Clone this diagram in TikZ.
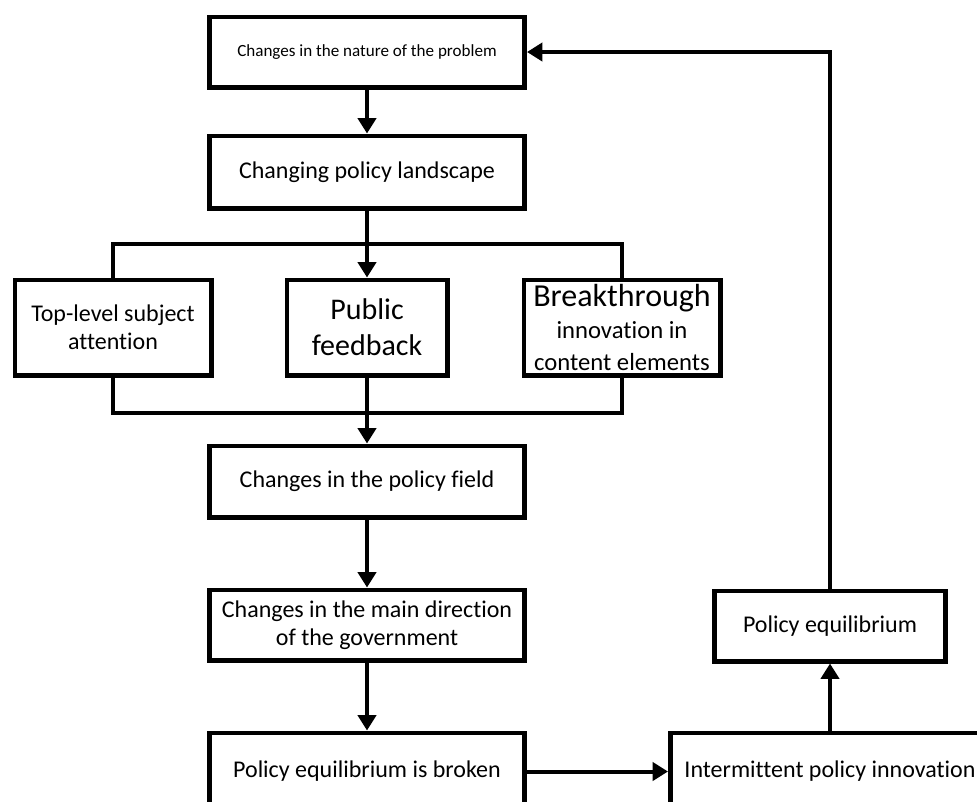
\documentclass[tikz,border=0pt]{standalone}
\usepackage{fontspec}
\setmainfont{Carlito}[Ligatures=NoCommon]
\usepackage{tikz}
\usetikzlibrary{arrows.meta, positioning}
\tikzset{
  block/.style={rectangle, draw=black, fill=white, line width=3.5pt,
    align=center, minimum width=236.5pt, minimum height=52.75pt,
    inner sep=2pt, font=\fontsize{18}{21}\selectfont},
  arrow/.style={-{Triangle[length=11.5pt,width=13.5pt]}, line width=3pt, color=black},
  line/.style={line width=3pt, color=black}
}

\begin{document}
\begin{tikzpicture}[node distance=50pt,
  sblock/.style={block, minimum width=147.25pt, minimum height=71.5pt}]
  \useasboundingbox (0,0) rectangle (732.75pt,-600.75pt);
  \clip (0,0) rectangle (732.75pt,-600.75pt);

  \node[block, font=\fontsize{12.8}{15}\selectfont] (problem) at (275.25pt,-39pt) {Changes in the nature of the problem};
  \node[block, minimum height=54.25pt, below=33pt of problem] (landscape) {Changing policy landscape};

  \node[sblock, minimum width=120.25pt, below=50.25pt of landscape,
    font=\fontsize{22.5}{27}\selectfont] (feedback) {Public\\feedback};
  \node[sblock, left=53.25pt of feedback] (attention) {Top-level subject\\attention};
  \node[sblock, inner sep=0pt, right=54pt of feedback,
    font=\fontsize{18.5}{24}\selectfont] (breakthrough) {{\fontsize{24}{24}\selectfont Breakthrough}\\innovation in\\content elements};

  \coordinate[below=24.75pt of landscape] (split);
  \coordinate[below=26.25pt of feedback] (join);

  \draw[arrow] (problem) -- (landscape);
  \draw[arrow] (landscape) -- (feedback);
  \draw[line] (attention.north) |- (split) -| (breakthrough.north);
  \draw[line] (attention.south) |- (join) -| (breakthrough.south);

  \node[block, minimum height=53.5pt, below=49.5pt of feedback] (field) {Changes in the policy field};
  \node[block, below=51pt of field] (direction) {Changes in the main direction\\of the government};
  \node[block, minimum height=58pt, below=51pt of direction] (broken) {Policy equilibrium is broken};
  \node[block, minimum width=239.5pt, minimum height=58pt, right=105.75pt of broken] (innovation) {Intermittent policy innovation};
  \node[block, minimum width=173.5pt, above=50.25pt of innovation] (equilibrium) {Policy equilibrium};

  \draw[arrow] (feedback) -- (field);
  \draw[arrow] (field) -- (direction);
  \draw[arrow] (direction) -- (broken);
  \draw[arrow] (broken) -- (innovation);
  \draw[arrow] (innovation) -- (equilibrium);
  \draw[arrow] (equilibrium.north) |- (problem.east);
\end{tikzpicture}
\end{document}
